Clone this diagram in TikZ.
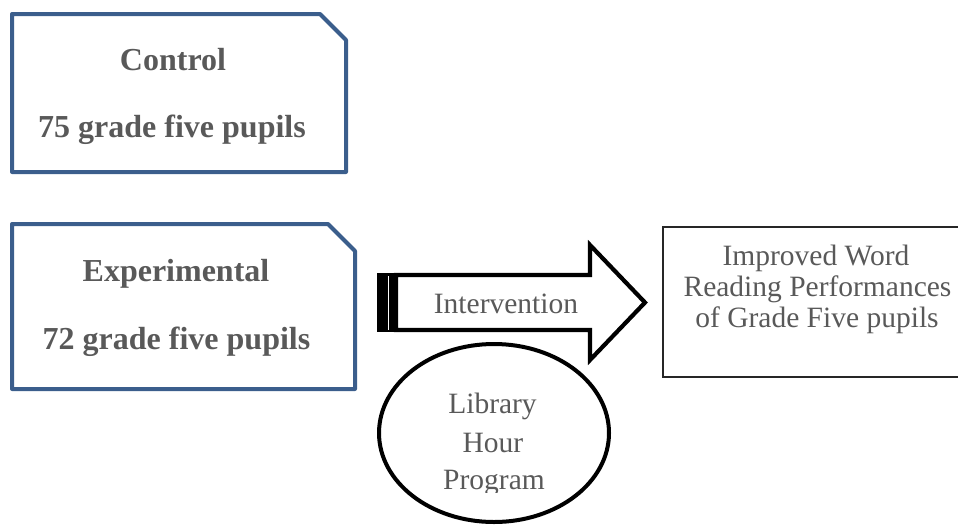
\documentclass[tikz,border=0pt]{standalone}
\usepackage{fontspec}
\setmainfont{Liberation Serif}
\usetikzlibrary{shapes.geometric}
\definecolor{boxblue}{RGB}{59,94,140}
\definecolor{txtgrey}{RGB}{89,89,89}
\tikzset{
  groupbox/.style={draw=boxblue, line width=2pt, line join=round},
  boldtxt/.style={anchor=base, inner sep=0pt, text=txtgrey, font=\fontsize{16}{18}\selectfont\bfseries},
  plaintxt/.style={anchor=base, inner sep=0pt, text=txtgrey, font=\fontsize{14.75}{16}\selectfont},
  arrowline/.style={draw=black, line width=2.1pt, line join=miter, fill=white},
  outcomebox/.style={draw=black!85, line width=0.6pt},
  progellipse/.style={ellipse, draw=black, line width=2pt, minimum width=115pt, minimum height=89pt, inner sep=0pt}
}
\begin{document}
\begin{tikzpicture}[x=0.5pt, y=-0.5pt]
\useasboundingbox (0,0) rectangle (958,526);
\clip (0,0) rectangle (958,526);
% control group
\draw[groupbox] (12,14) coordinate (c1) -- (320,14) -- (346,40) -- (346,172) -- (12,172) -- cycle;
\node[boldtxt] (ctitle) at (173,70) {Control};
\node[boldtxt] (cnum) at (172,137) {75 grade five pupils};
% experimental group
\draw[groupbox] (12,224) coordinate (e1) -- (328,224) -- (355,251) -- (355,389) -- (12,389) -- cycle;
\node[boldtxt] (etitle) at (176,281) {Experimental};
\node[boldtxt] (enum) at (176.5,349) {72 grade five pupils};
% intervention arrow
\draw[arrowline] (396,275) -- (590,275) -- (590,245) -- (645,302.5) -- (590,360) -- (590,330) -- (396,330) -- cycle;
\fill[black] (377,273) rectangle (398,332);
\draw[white, line width=0.5pt] (388.5,276) -- (388.5,330);
\node[plaintxt] (interv) at (506,313) {Intervention};
% outcome box
\draw[outcomebox] (1000,227) -- (663,227) -- (663,377) -- (1000,377);
\node[plaintxt] (out1) at (816,265) {Improved Word};
\node[plaintxt] (out2) at (817.5,296) {Reading Performances};
\node[plaintxt] (out3) at (817,327) {of Grade Five pupils};
% program ellipse
\node[progellipse] (prog) at (494,433) {};
\node[plaintxt] (lib) at (492.5,413) {Library};
\node[plaintxt] (hour) at (493,452) {Hour};
\begin{scope}
\clip (380,340) rectangle (610,492);
\node[plaintxt] (progtxt) at (494,489.5) {Program};
\end{scope}
\end{tikzpicture}
\end{document}
